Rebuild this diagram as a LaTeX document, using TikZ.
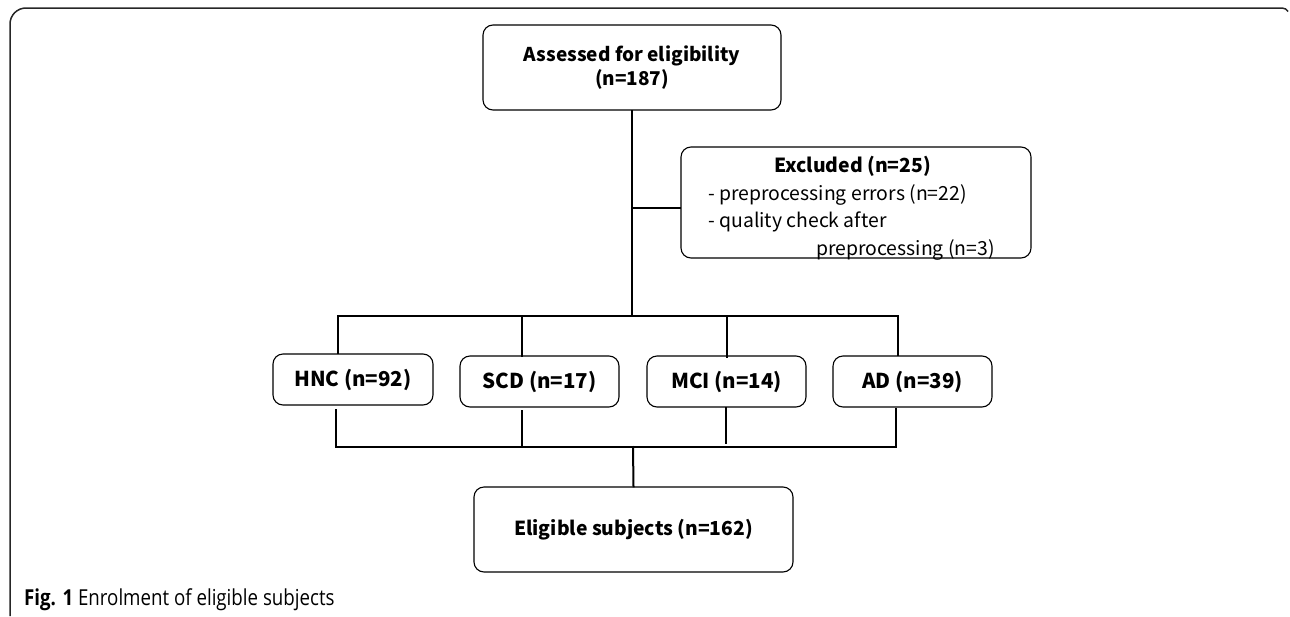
\documentclass[tikz,border=0pt]{standalone}
\usepackage{fontspec}
\setmainfont{Noto Sans CJK KR}
\newfontfamily\capfont[FakeStretch=0.85]{Open Sans}
\begin{document}
\begin{tikzpicture}[x=1pt,y=-1pt,
  box/.style={draw=black,line width=1.1pt,rounded corners=10pt,align=center,inner sep=0pt},
  smallbox/.style={box,minimum width=159pt,minimum height=51pt,font=\bfseries\fontsize{20.5}{24}\selectfont},
  conn/.style={line width=2pt,line cap=rect},
  frame/.style={line width=1.5pt,draw=black!85}]
\useasboundingbox (0,0) rectangle (1290,616);
% frame
\draw[frame] (10,616) -- (10,24) arc[start angle=180,end angle=270,radius=16] -- (1282,8) arc[start angle=270,end angle=330,radius=7];
% boxes
\node[box,minimum width=298pt,minimum height=85pt,font=\bfseries\fontsize{19}{24}\selectfont] (top) at (632,67.5) {Assessed for eligibility\\(n=187)};
\node[box,minimum width=350pt,minimum height=111pt] (exc) at (856,202.5) {};
\node[font=\fontsize{19.4}{27.5}\selectfont,align=left,anchor=north west,inner sep=0pt] (exctext) at (708,156) {\hspace*{66pt}\textbf{Excluded (n=25)}\\- preprocessing errors (n=22)\\- quality check after\\\hspace*{108pt}preprocessing (n=3)};
\node[smallbox,minimum width=160pt] (hnc) at (353,379.5) {HNC (n=92)};
\node[smallbox] (scd) at (539.5,381.5) {SCD (n=17)};
\node[smallbox] (mci) at (726.5,381.5) {MCI (n=14)};
\node[smallbox] (ad) at (912.5,381.5) {AD (n=39)};
\node[box,minimum width=319pt,minimum height=85pt,font=\bfseries\fontsize{19.3}{24}\selectfont] (elig) at (633.5,529.5) {Eligible subjects (n=162)};
% coordinates
\coordinate (t1) at (632,316);
\coordinate (b1) at (633,447);
\coordinate (ej) at (632,208);
\coordinate (hl) at (338,316);
\coordinate (hr) at (898,316);
\coordinate (bl) at (336,447);
\coordinate (br) at (896,447);
% connectors
\draw[conn] (top.south) -- (t1);
\draw[conn] (ej) -- (exc.west |- ej);
\draw[conn] (hl) -- (hr);
\draw[conn] (hl) -- (hl |- hnc.north);
\draw[conn] (522,316) -- (522,356);
\draw[conn] (727,316) -- (727,357);
\draw[conn] (hr) -- (hr |- ad.north);
\draw[conn] (bl) -- (br);
\draw[conn] (bl) -- (336,410);
\draw[conn] (522,447) -- (522,411);
\draw[conn] (726,443) -- (726,408);
\draw[conn] (br) -- (896,409);
\draw[conn] (b1) -- (elig.north);
% caption
\node[anchor=base west,inner sep=0pt,font=\capfont\fontsize{22}{24}\selectfont] (cap) at (24,605) {\textbf{Fig. 1} Enrolment of eligible subjects};
\end{tikzpicture}
\end{document}
